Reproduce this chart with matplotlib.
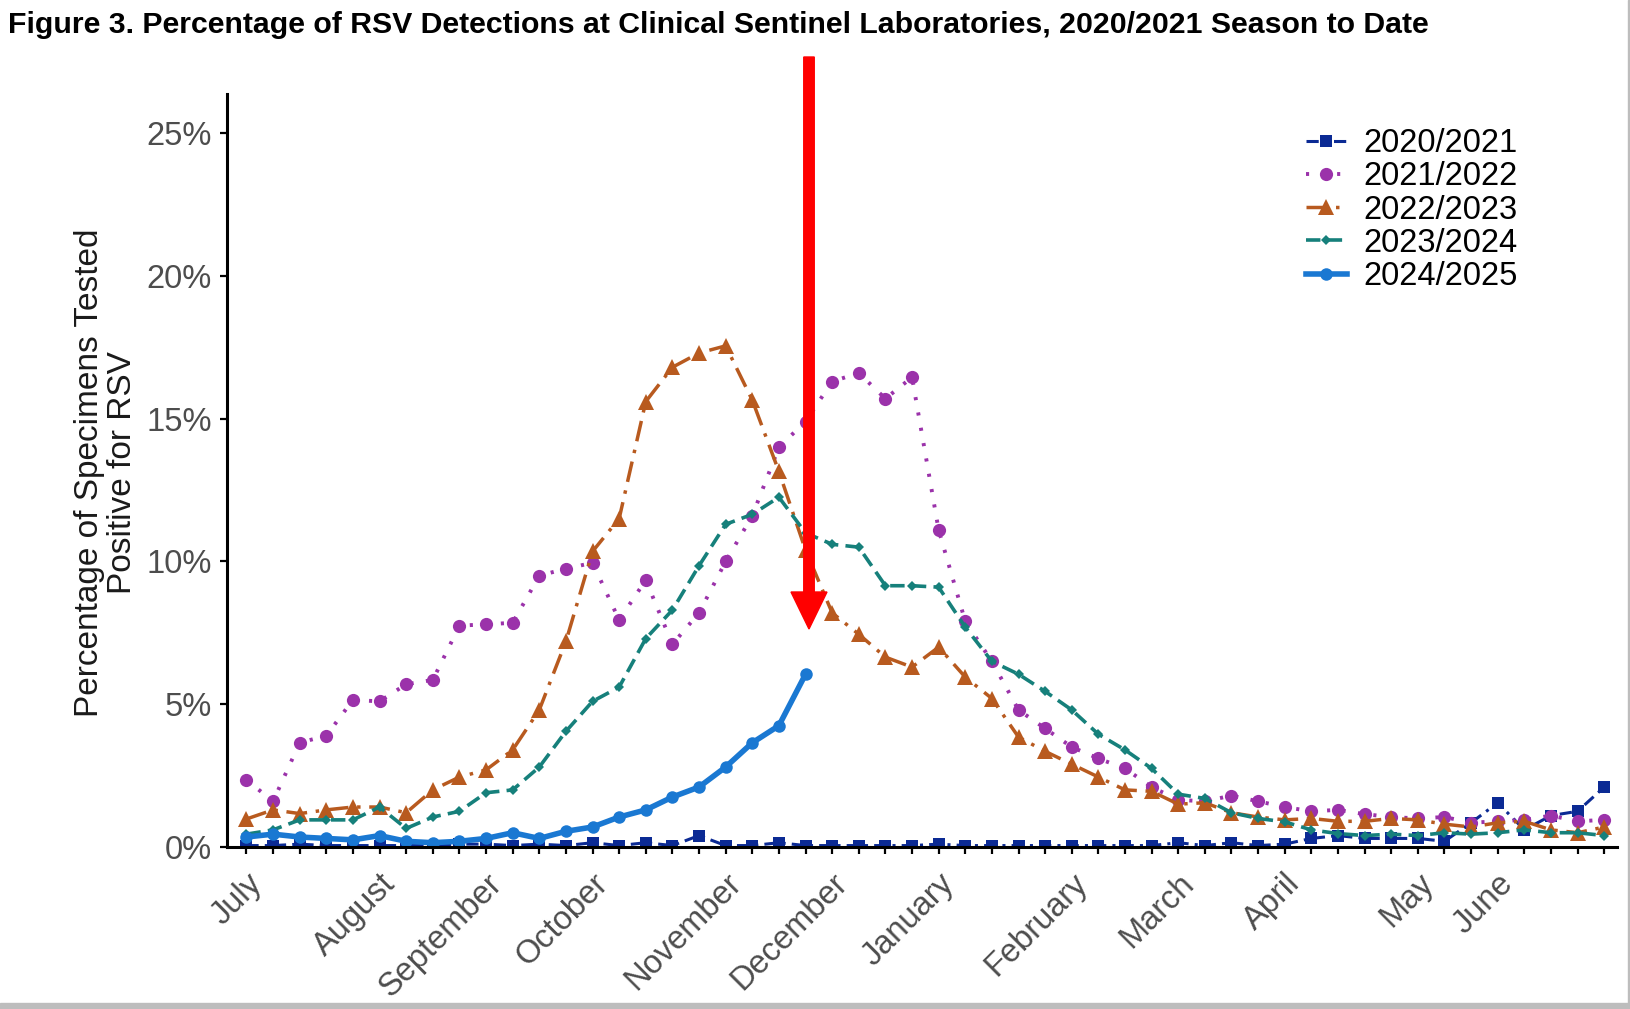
#!/usr/bin/env python3
"""Figure 3: percentage of RSV detections at clinical sentinel labs, by season."""

import matplotlib

matplotlib.use("Agg")
import matplotlib.pyplot as plt
import numpy as np
from matplotlib.patches import FancyArrow, Rectangle
from matplotlib.transforms import IdentityTransform

plt.rcParams["font.family"] = ["Liberation Sans", "DejaVu Sans"]

# weekly percent positive, week 0 = first week of July
seasons = ["2020/2021", "2021/2022", "2022/2023", "2023/2024", "2024/2025"]

pct_2020 = [0.05, 0.05, 0.1, 0.05, 0.05, 0.05, 0.05, 0.05, 0.1, 0.1,
            0.05, 0.1, 0.05, 0.15, 0.05, 0.15, 0.05, 0.4, 0.05, 0.05,
            0.15, 0.05, 0.05, 0.05, 0.05, 0.05, 0.1, 0.05, 0.05, 0.05,
            0.05, 0.05, 0.05, 0.05, 0.05, 0.15, 0.05, 0.15, 0.05, 0.1,
            0.3, 0.4, 0.3, 0.3, 0.3, 0.2, 0.85, 1.55, 0.6, 1.1,
            1.25, 2.1]
pct_2021 = [2.35, 1.6, 3.65, 3.9, 5.15, 5.1, 5.7, 5.85, 7.75, 7.8,
            7.85, 9.5, 9.75, 9.95, 7.95, 9.35, 7.1, 8.2, 10.0, 11.6,
            14.0, 14.9, 16.3, 16.6, 15.7, 16.45, 11.1, 7.9, 6.5, 4.8,
            4.15, 3.5, 3.1, 2.75, 2.1, 1.65, 1.6, 1.8, 1.6, 1.4,
            1.25, 1.3, 1.15, 1.05, 1.0, 1.05, 0.85, 0.9, 0.95, 1.1,
            0.9, 0.95]
pct_2022 = [0.98, 1.3, 1.17, 1.3, 1.4, 1.4, 1.2, 2.0, 2.45, 2.7,
            3.4, 4.8, 7.2, 10.35, 11.5, 15.6, 16.8, 17.3, 17.55, 15.65,
            13.15, 10.4, 8.2, 7.45, 6.65, 6.3, 7.0, 5.95, 5.2, 3.85,
            3.35, 2.9, 2.45, 2.0, 1.95, 1.5, 1.55, 1.2, 1.05, 0.95,
            1.0, 0.9, 0.9, 1.0, 0.95, 0.8, 0.7, 0.85, 0.9, 0.6,
            0.5, 0.7]
pct_2023 = [0.45, 0.6, 0.95, 0.95, 0.95, 1.4, 0.65, 1.05, 1.25, 1.9,
            2.0, 2.8, 4.05, 5.1, 5.6, 7.3, 8.3, 9.85, 11.3, 11.65,
            12.25, 11.0, 10.6, 10.5, 9.15, 9.15, 9.1, 7.7, 6.5, 6.05,
            5.45, 4.8, 3.95, 3.4, 2.75, 1.85, 1.7, 1.2, 1.0, 0.88,
            0.6, 0.47, 0.4, 0.45, 0.4, 0.5, 0.45, 0.5, 0.6, 0.5,
            0.5, 0.4]
pct_2024 = [0.35, 0.45, 0.35, 0.3, 0.25, 0.4, 0.2, 0.15, 0.2, 0.3,
            0.5, 0.3, 0.55, 0.7, 1.05, 1.3, 1.75, 2.1, 2.8, 3.65,
            4.25, 6.05]

month_names = ["July", "August", "September", "October", "November", "December",
               "January", "February", "March", "April", "May", "June"]
month_weeks = [0, 5, 9, 13, 18, 22, 26, 31, 35, 39, 44, 47]
y_ticks = [0, 5, 10, 15, 20, 25]

STYLES = [
    # color, marker, markersize, linewidth, dashes
    ("#0b2a94", "s", 8.5, 2.2, (0, (4, 2, 1, 2))),
    ("#9b32aa", "o", 9.5, 2.8, (0, (0.8, 3.2))),
    ("#b85a1f", "^", 11.0, 2.5, (0, (6, 2.5, 1, 2.5))),
    ("#16807b", "D", 5.5, 2.6, (0, (4, 2))),
    ("#1a78d2", "o", 9.0, 4.0, "solid"),
]
TICK_GREY = "#4d4d4d"
FS = 23.5


def main():
    W, H = 1631, 1009
    fig = plt.figure(figsize=(W / 100, H / 100), dpi=100)
    ax = fig.add_axes([227 / W, (H - 847) / H, (1617 - 227) / W, (847 - 94) / H])

    series = [pct_2020, pct_2021, pct_2022, pct_2023, pct_2024]
    for name, vals, (col, mk, ms, lw, ls) in zip(seasons, series, STYLES):
        x = np.arange(len(vals))
        ax.plot(x, vals, color=col, marker=mk, markersize=ms, lw=lw,
                linestyle=ls, markeredgewidth=0, label=name)

    ax.set_xlim(-0.73, 51.48)
    ax.set_ylim(0, 26.37)

    ax.set_xticks(np.arange(52))
    labels = [""] * 52
    for w, m in zip(month_weeks, month_names):
        labels[w] = m
    ax.set_xticklabels(labels, rotation=45, ha="right", va="top",
                       rotation_mode="anchor", color=TICK_GREY, fontsize=FS)
    ax.set_yticks(y_ticks)
    ax.set_yticklabels([f"{v}%" for v in y_ticks], color=TICK_GREY, fontsize=FS)
    ax.tick_params(axis="both", length=5, width=1.6, color="black")
    ax.tick_params(axis="x", pad=10)
    ax.tick_params(axis="y", pad=6)

    for side in ["top", "right"]:
        ax.spines[side].set_visible(False)
    for side in ["left", "bottom"]:
        ax.spines[side].set_linewidth(2.2)

    fig.text(106 / W, 1 - 473 / H, "Percentage of Specimens Tested\nPositive for RSV",
             rotation=90, ha="center", va="center", multialignment="center",
             fontsize=24, color="#1a1a1a", linespacing=1.12)

    ax.legend(loc="upper left", bbox_to_anchor=(1306 / W, 1 - 128 / H),
              bbox_transform=fig.transFigure, frameon=False, fontsize=FS,
              handlelength=1.25, handletextpad=0.5, labelspacing=0.07,
              borderpad=0, borderaxespad=0, numpoints=1)

    fig.text(8 / W, 1 - 25 / H,
             "Figure 3. Percentage of RSV Detections at Clinical Sentinel Laboratories, "
             "2020/2021 Season to Date",
             ha="left", va="center", fontsize=21.8, fontweight="bold")

    # red arrow pointing at the current week
    fig.patches.append(FancyArrow(809, H - 57, 0, -(629 - 57), width=10.5,
                                  head_width=36, head_length=37,
                                  length_includes_head=True, color="#ff0000",
                                  transform=IdentityTransform(), figure=fig))

    # page edge from the scanned report
    fig.patches.append(Rectangle((0, 0), W, 6, color="#bdbdbd",
                                 transform=IdentityTransform(), figure=fig))
    fig.patches.append(Rectangle((W - 3, 0), 3, H, color="#bdbdbd",
                                 transform=IdentityTransform(), figure=fig))

    fig.savefig("out.png", dpi=100)
    plt.close(fig)


if __name__ == "__main__":
    main()
